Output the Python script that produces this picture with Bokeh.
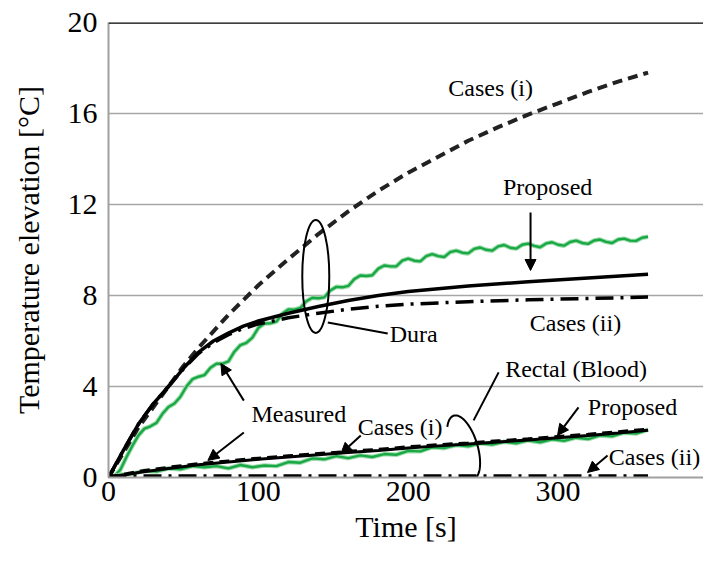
import numpy as np
from bokeh.plotting import figure
from bokeh.models import Range1d, FixedTicker, Span, Arrow, NormalHead
from bokeh.core.properties import value
from bokeh.embed import file_html
from bokeh.resources import INLINE

# ---------------- data ----------------
x_ticks = [0, 100, 200, 300]
y_ticks = [0, 4, 8, 12, 16, 20]

# Dura
dura_x = [0, 10, 20, 30, 40, 50, 60, 70, 80, 90, 100, 120, 140, 160, 180, 200, 240, 280, 320, 360]
dura_proposed = [0, 1.2, 2.35, 3.25, 4.0, 4.8, 5.5, 6.0, 6.35, 6.65, 6.88, 7.22, 7.52, 7.78, 8.0, 8.18,
                 8.42, 8.6, 8.77, 8.93]
dura_cases2 = [0, 1.2, 2.35, 3.25, 4.0, 4.78, 5.45, 5.92, 6.28, 6.55, 6.75, 7.02, 7.22, 7.4, 7.53, 7.62,
               7.73, 7.81, 7.87, 7.93]
dura_c1_x = [0, 10, 20, 30, 40, 50, 60, 80, 100, 120, 140, 160, 180, 200, 220, 240, 260, 280, 300, 320, 340, 360]
dura_cases1 = [0, 1.1, 2.2, 3.1, 4.0, 4.9, 5.7, 7.15, 8.45, 9.6, 10.7, 11.7, 12.6, 13.4, 14.1, 14.8, 15.4,
               15.95, 16.45, 16.95, 17.4, 17.8]
dura_meas_x = list(range(0, 361, 4))
dura_measured = [0, 0.05, 0.35, 0.9, 1.4, 1.85, 2.15, 2.25, 2.4, 2.8,
                 3.1, 3.25, 3.55, 4.0, 4.32, 4.43, 4.5, 4.82, 5.0, 5.0,
                 5.1, 5.53, 5.82, 5.92, 6.15, 6.58, 6.77, 6.78, 6.85, 7.2,
                 7.39, 7.38, 7.45, 7.75, 7.9, 7.88, 7.92, 8.22, 8.38, 8.36,
                 8.42, 8.72, 8.88, 8.86, 8.89, 9.18, 9.32, 9.28, 9.28, 9.53,
                 9.62, 9.53, 9.5, 9.73, 9.82, 9.73, 9.69, 9.91, 9.97, 9.88,
                 9.85, 10.05, 10.11, 10.01, 9.97, 10.16, 10.22, 10.1, 10.06, 10.23,
                 10.28, 10.18, 10.12, 10.29, 10.34, 10.23, 10.19, 10.35, 10.41, 10.31,
                 10.27, 10.42, 10.46, 10.36, 10.31, 10.46, 10.5, 10.41, 10.4, 10.54,
                 10.58]

# Rectal (Blood)
rect_x = [0, 20, 40, 60, 80, 100, 120, 140, 160, 180, 200, 220, 240, 260, 280, 300, 320, 340, 360]
rect_proposed = [0, 0.22, 0.4, 0.56, 0.68, 0.8, 0.9, 1.0, 1.1, 1.19, 1.3, 1.39, 1.47, 1.56, 1.65, 1.75,
                 1.85, 1.96, 2.08]
rect_cases1 = [0, 0.26, 0.44, 0.6, 0.72, 0.84, 0.94, 1.04, 1.14, 1.23, 1.34, 1.43, 1.51, 1.6, 1.69, 1.79,
               1.89, 2.0, 2.12]
rect_c2_x = [0, 360]
rect_cases2 = [0.05, 0.05]
rect_meas_x = list(range(0, 361, 8))
rect_measured = [0, 0.12, 0.16, 0.3, 0.26, 0.4, 0.36, 0.5, 0.45, 0.5,
                 0.4, 0.55, 0.45, 0.53, 0.5, 0.68, 0.65, 0.84, 0.8, 0.94,
                 0.85, 0.97, 0.9, 1.03, 1.0, 1.17, 1.15, 1.33, 1.29, 1.43,
                 1.37, 1.5, 1.45, 1.57, 1.5, 1.63, 1.55, 1.68, 1.61, 1.75,
                 1.69, 1.85, 1.81, 1.97, 1.93, 2.1]

# ---------------- figure ----------------
SERIF = "Liberation Serif, 'Times New Roman', 'DejaVu Serif', serif"
GREEN = "#18a945"
GREEN_HALO = "#9fdbac"

p = figure(width=703, height=565, output_backend="svg", toolbar_location=None,
           x_range=Range1d(0, 397), y_range=Range1d(0, 20),
           min_border_left=108, min_border_right=0, min_border_top=22, min_border_bottom=88)
p.outline_line_color = None
p.background_fill_color = "white"
p.border_fill_color = "white"

p.xgrid.visible = False
p.ygrid.ticker = FixedTicker(ticks=[4, 8, 12, 16])
p.ygrid.grid_line_color = "#a6a6a6"
p.ygrid.grid_line_width = 1.5

for ax in (p.xaxis[0], p.yaxis[0]):
    ax.axis_line_color = "#a0a0a0"
    ax.axis_line_width = 2
    ax.major_tick_out = 0
    ax.major_tick_in = 0
    ax.minor_tick_out = 0
    ax.minor_tick_in = 0
    ax.major_label_text_font = SERIF
    ax.major_label_text_font_size = "30px"
    ax.major_label_text_color = "black"
    ax.axis_label_text_font = SERIF
    ax.axis_label_text_font_size = "30px"
    ax.axis_label_text_font_style = "normal"
    ax.axis_label_text_color = "black"

p.xaxis.ticker = FixedTicker(ticks=x_ticks)
p.yaxis.ticker = FixedTicker(ticks=y_ticks)
p.xaxis.axis_label = "Time [s]"
p.yaxis.axis_label = "Temperature elevation [°C]"
p.xaxis.major_label_standoff = 4
p.xaxis.axis_label_standoff = 6
p.yaxis.major_label_standoff = 11
p.yaxis.axis_label_standoff = 20

p.add_layout(Span(location=20, dimension="width", line_color="black", line_width=2.5))

# measured (green)
for xs, ys in ((dura_meas_x, dura_measured), (rect_meas_x, rect_measured)):
    p.line(xs, ys, line_color=GREEN_HALO, line_width=4.5)
    p.line(xs, ys, line_color=GREEN, line_width=2.4)

# dura
p.line(dura_c1_x, dura_cases1, line_color="#222222", line_width=4, line_dash="10 6")
p.line(dura_x, dura_cases2, line_color="black", line_width=3.5, line_dash="18 7 3 7")
p.line(dura_x, dura_proposed, line_color="black", line_width=3.5)

# rectal
p.line(rect_x, rect_cases1, line_color="black", line_width=3.5, line_dash="10 6")
p.line(rect_x, rect_proposed, line_color="black", line_width=3)
p.line(rect_c2_x, rect_cases2, line_color="black", line_width=4, line_dash="18 7 3 7")

# ---------------- annotations ----------------
lab_x = [255, 293, 311.6, 203.6, 127, 194.6, 312, 349.6, 364.3]
lab_y = [17.1, 12.79, 6.77, 6.29, 2.81, 2.21, 4.79, 3.08, 0.92]
lab_t = ["Cases (i)", "Proposed", "Cases (ii)", "Dura", "Measured", "Cases (i)",
         "Rectal (Blood)", "Proposed", "Cases (ii)"]
p.text(x=lab_x, y=lab_y, text=lab_t, text_font=value(SERIF), text_font_size="24px",
       text_align="center", text_baseline="middle", text_color="black")

arrows = [
    (281.6, 11.65, 281.6, 9.1),
    (90.3, 3.38, 75.0, 5.01),
    (90.3, 1.98, 66.3, 0.75),
    (168.3, 1.85, 155.0, 1.04),
    (313.6, 3.08, 299.6, 1.85),
    (333.0, 0.97, 319.6, 0.22),
]
for x0, y0, x1, y1 in arrows:
    p.add_layout(Arrow(end=NormalHead(size=11, fill_color="black", line_color="black", line_width=1),
                       x_start=x0, y_start=y0, x_end=x1, y_end=y1,
                       line_color="black", line_width=2))

# leader lines without heads
p.segment(x0=[146.3, 260.3], y0=[6.81, 4.62], x1=[186.3, 243.6], y1=[6.33, 2.51],
          line_color="black", line_width=2)

# dura ellipse
p.ellipse(x=[138.3], y=[8.84], width=[27], height=[113], width_units="screen", height_units="screen",
          fill_color=None, line_color="black", line_width=2)

# rectal open ellipse (arc)
t = np.linspace(np.deg2rad(140), np.deg2rad(-95), 80)
cx, cy, a, b, sh = 236.9, 1.32, 9.67, 1.41, 5.33
p.line(cx + a * np.cos(t) - sh * np.sin(t), cy + b * np.sin(t), line_color="black", line_width=2)

open("out.html", "w").write(file_html(p, INLINE))
